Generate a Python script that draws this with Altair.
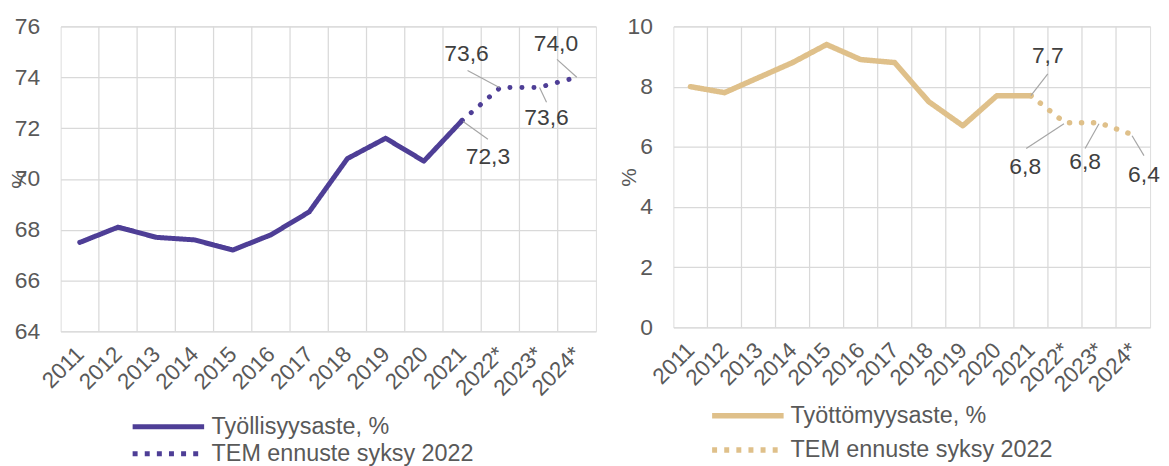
import altair as alt
import pandas as pd

# ---- data ----
years = ["2011", "2012", "2013", "2014", "2015", "2016", "2017",
         "2018", "2019", "2020", "2021", "2022*", "2023*", "2024*"]
employment = [67.5, 68.1, 67.7, 67.6, 67.2, 67.8, 68.7,
              70.8, 71.6, 70.7, 72.3, 73.6, 73.6, 74.0]
unemployment = [8.0, 7.8, 8.3, 8.8, 9.4, 8.9, 8.8,
                7.5, 6.7, 7.7, 7.7, 6.8, 6.8, 6.4]
forecast_start = "2021"
left_names = ["Työllisyysaste, %", "TEM ennuste syksy 2022"]
right_names = ["Työttömyysaste, %", "TEM ennuste syksy 2022"]
labelled_years = ["2021", "2022*", "2023*", "2024*"]
left_ticks = [64, 66, 68, 70, 72, 74, 76]
right_ticks = [0, 2, 4, 6, 8, 10]

# ---- styles ----
PURPLE = "#4E3E96"
TAN = "#DFC08A"
GRID = "#D9D9D9"
TEXT = "#595959"
LABEL = "#404040"
LEADER = "#A6A6A6"
FONT = "Liberation Sans"

n = len(years)
split = years.index(forecast_start)
label_expr = "[" + ",".join("'%s'" % y for y in years) + "][datum.value]"


def fmt(v):
    return ("%.1f" % v).replace(".", ",")


def panel(values, names, color, line_w, ticks, w, h, title_x, legend_style, label_styles):
    actual_df = pd.DataFrame({"idx": list(range(split + 1)),
                              "val": values[:split + 1],
                              "series": [names[0]] * (split + 1)})
    fc_df = pd.DataFrame({"idx": list(range(split, n)),
                          "val": values[split:],
                          "series": [names[1]] * (n - split)})

    xscale = alt.Scale(domain=[-0.5, n - 0.5], nice=False, zero=False)
    yscale = alt.Scale(domain=[ticks[0], ticks[-1]], nice=False, zero=False)

    x_axis = alt.Axis(
        values=list(range(n)), labelExpr=label_expr, grid=False, ticks=False,
        tickSize=0, domain=False, labelAngle=315, labelAlign="right",
        labelBaseline="middle", labelPadding=19, labelFontSize=22.5,
        labelColor=TEXT, labelFont=FONT, labelFlush=False, labelOverlap=False,
        title=None)
    y_axis = alt.Axis(
        values=ticks, grid=True, gridColor=GRID, gridWidth=1.25, ticks=False,
        tickSize=0, domain=False, labelPadding=21, labelFontSize=23,
        labelColor=TEXT, labelFont=FONT, title="%", titleFontSize=21,
        titleColor=TEXT, titleFont=FONT, titleFontWeight="normal",
        titleX=title_x, titleY=h / 2, titleAngle=270, titleAlign="center",
        titleBaseline="middle")

    grid_df = pd.DataFrame({"idx": [i - 0.5 for i in range(1, n)]})
    grid = alt.Chart(grid_df).mark_rule(color=GRID, strokeWidth=1.25).encode(
        x=alt.X("idx:Q", scale=xscale, axis=x_axis)
    )

    # solid actual line, carrying the legend for both series
    solid = alt.Chart(actual_df).mark_line(
        color=color, strokeWidth=line_w, strokeCap="round", strokeJoin="round"
    ).encode(
        x=alt.X("idx:Q", scale=xscale, axis=x_axis),
        y=alt.Y("val:Q", scale=yscale, axis=y_axis),
        strokeDash=alt.StrokeDash("series:N", scale=alt.Scale(
            domain=names, range=[[1, 0], [5, 7.2]]), legend=alt.Legend(
            title=None, orient="none", legendX=legend_style["x"],
            legendY=legend_style["y"], direction="vertical", padding=0,
            rowPadding=legend_style["row"], symbolType="M-3.6,0H3.6",
            symbolSize=400, symbolStrokeWidth=line_w, symbolStrokeColor=color,
            labelOffset=legend_style["gap"], labelFontSize=23.5, labelLimit=1000,
            labelColor=TEXT, labelFont=FONT)),
        order="idx:Q",
    )

    # dotted forecast line with round dots
    dotted = alt.Chart(fc_df).mark_line(
        color=color, strokeWidth=line_w, strokeCap="round", strokeJoin="round",
        strokeDash=[0.1, 12]
    ).encode(
        x=alt.X("idx:Q", scale=xscale, axis=x_axis),
        y=alt.Y("val:Q", scale=yscale, axis=y_axis),
        order="idx:Q",
    )

    layers = [grid, solid, dotted]
    for yr, st in zip(labelled_years, label_styles):
        i = years.index(yr)
        ldf = pd.DataFrame({"idx": [i], "val": [values[i]], "txt": [fmt(values[i])]})
        lx1, ly1, lx2, ly2 = st["lead"]
        leader = alt.Chart(ldf).mark_rule(
            color=LEADER, strokeWidth=1.2, xOffset=lx1, yOffset=ly1,
            x2Offset=lx2, y2Offset=ly2
        ).encode(
            x=alt.X("idx:Q", scale=xscale, axis=x_axis), x2="idx:Q",
            y=alt.Y("val:Q", scale=yscale, axis=y_axis), y2="val:Q",
        )
        text = alt.Chart(ldf).mark_text(
            dx=st["dx"], dy=st["dy"], fontSize=23, font=FONT, color=LABEL,
            align="center", baseline="middle"
        ).encode(
            x=alt.X("idx:Q", scale=xscale, axis=x_axis),
            y=alt.Y("val:Q", scale=yscale, axis=y_axis),
            text="txt:N",
        )
        layers += [leader, text]

    return alt.layer(*layers).properties(width=w, height=h)


left_labels = [
    {"dx": 26, "dy": 37, "lead": (1, 1, 26, 19)},
    {"dx": -34, "dy": -34, "lead": (-1, 0, -33, -17)},
    {"dx": 8, "dy": 31, "lead": (1, 0, 8, 15)},
    {"dx": -21, "dy": -33, "lead": (0, 0, -20, -18)},
]
right_labels = [
    {"dx": 17, "dy": -40, "lead": (0, 0, 17, -22)},
    {"dx": -40, "dy": 45, "lead": (-1, 1, -39, 26)},
    {"dx": -14, "dy": 40, "lead": (0, 1, -14, 26)},
    {"dx": 11, "dy": 41, "lead": (-1, 1, 11, 21)},
]

left = panel(employment, left_names, PURPLE, 5, left_ticks, 539, 307, -41,
             {"x": 96, "y": 390.5, "row": 3.2, "gap": 31}, left_labels)
right = panel(unemployment, right_names, TAN, 5.5, right_ticks, 480, 303, -44,
              {"x": 62, "y": 379, "row": 9.5, "gap": 30}, right_labels)

chart = alt.hconcat(left, right, spacing=21).resolve_scale(
    x="independent", y="independent", strokeDash="independent"
).resolve_legend(strokeDash="independent").properties(
    padding={"left": 0, "top": 5, "right": 0, "bottom": 0}
).configure_view(stroke=GRID, strokeWidth=1.25).configure(font=FONT, background="white")

chart.save("out.html", embed_options={"renderer": "svg", "actions": False})
